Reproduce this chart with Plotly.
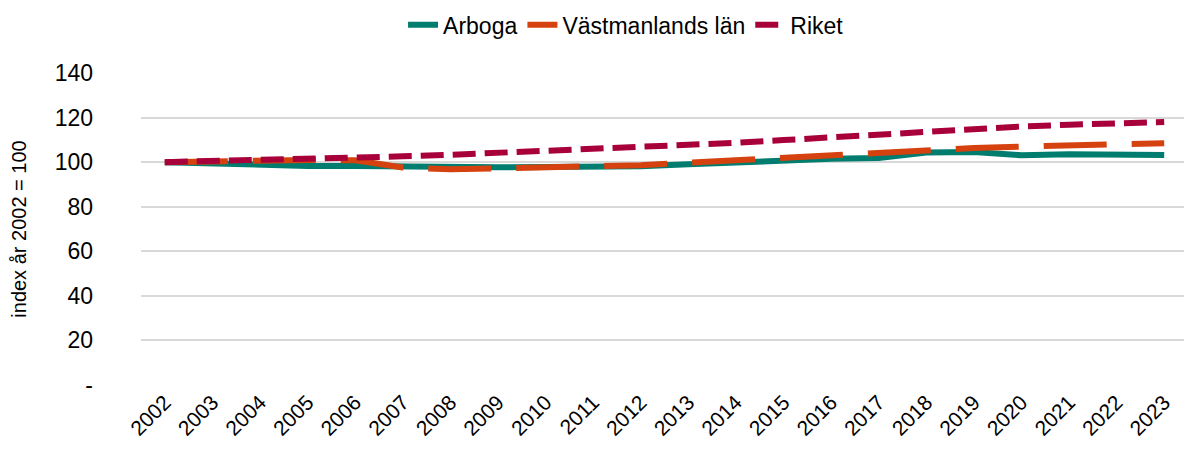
import plotly.graph_objects as go

years = [str(y) for y in range(2002, 2024)]
arboga = [100, 99.3, 98.6, 98.3, 98.3, 98.0, 97.8, 97.7, 97.8, 97.8, 98.2,
          99.0, 99.9, 100.8, 101.5, 101.9, 104.3, 104.5, 103.1, 103.5, 103.6, 103.2]
vastmanland = [100, 100.5, 100.8, 101.0, 100.8, 97.6, 96.8, 97.2, 97.5, 98.0, 98.6,
               99.8, 100.9, 102.0, 103.0, 104.6, 105.5, 106.3, 107.0, 107.6, 108.1, 108.5]
riket = [100, 100.4, 100.8, 101.3, 101.9, 102.6, 103.3, 104.1, 104.9, 105.8, 106.6,
         107.6, 108.7, 109.9, 111.2, 112.5, 113.8, 115.0, 116.0, 116.8, 117.4, 118.0]

y_ticks = [0, 20, 40, 60, 80, 100, 120, 140]
y_ticktext = ["-", "20", "40", "60", "80", "100", "120", "140"]

names = ["Arboga", "Västmanlands län", "Riket"]
colors = ["#007D6E", "#D5420F", "#A8003A"]
dashes = ["solid", "63px,25px", "23px,9px"]

fig = go.Figure()
for name, vals, col, dash in zip(names, [arboga, vastmanland, riket], colors, dashes):
    fig.add_trace(go.Scatter(
        x=years, y=vals, name=name, mode="lines",
        line=dict(color=col, width=6, dash=dash),
    ))

fig.update_layout(
    width=1184, height=445,
    margin=dict(l=133, r=4, t=65, b=68, autoexpand=False),
    paper_bgcolor="white", plot_bgcolor="white",
    font=dict(family="Liberation Sans, Arial, sans-serif", color="#000000"),
    showlegend=True,
    legend=dict(orientation="h", x=0.522, xref="container", xanchor="center",
                y=0.962, yref="container", yanchor="middle",
                font=dict(size=23), traceorder="normal"),
)
fig.update_xaxes(
    type="category", range=[-0.5, 21.5], tickangle=-45, automargin=False,
    tickfont=dict(size=21), showgrid=False, showline=False, ticks="",
)
fig.update_yaxes(
    range=[0, 140], tickvals=y_ticks, ticktext=y_ticktext, automargin=False,
    tickfont=dict(size=23), showgrid=True, gridcolor="#D9D9D9", gridwidth=1.5,
    zeroline=False, showline=False, ticks="", ticklabelstandoff=47,
    title=dict(text="index år 2002 = 100", font=dict(size=20), standoff=22),
)

fig.write_html("out.html")
